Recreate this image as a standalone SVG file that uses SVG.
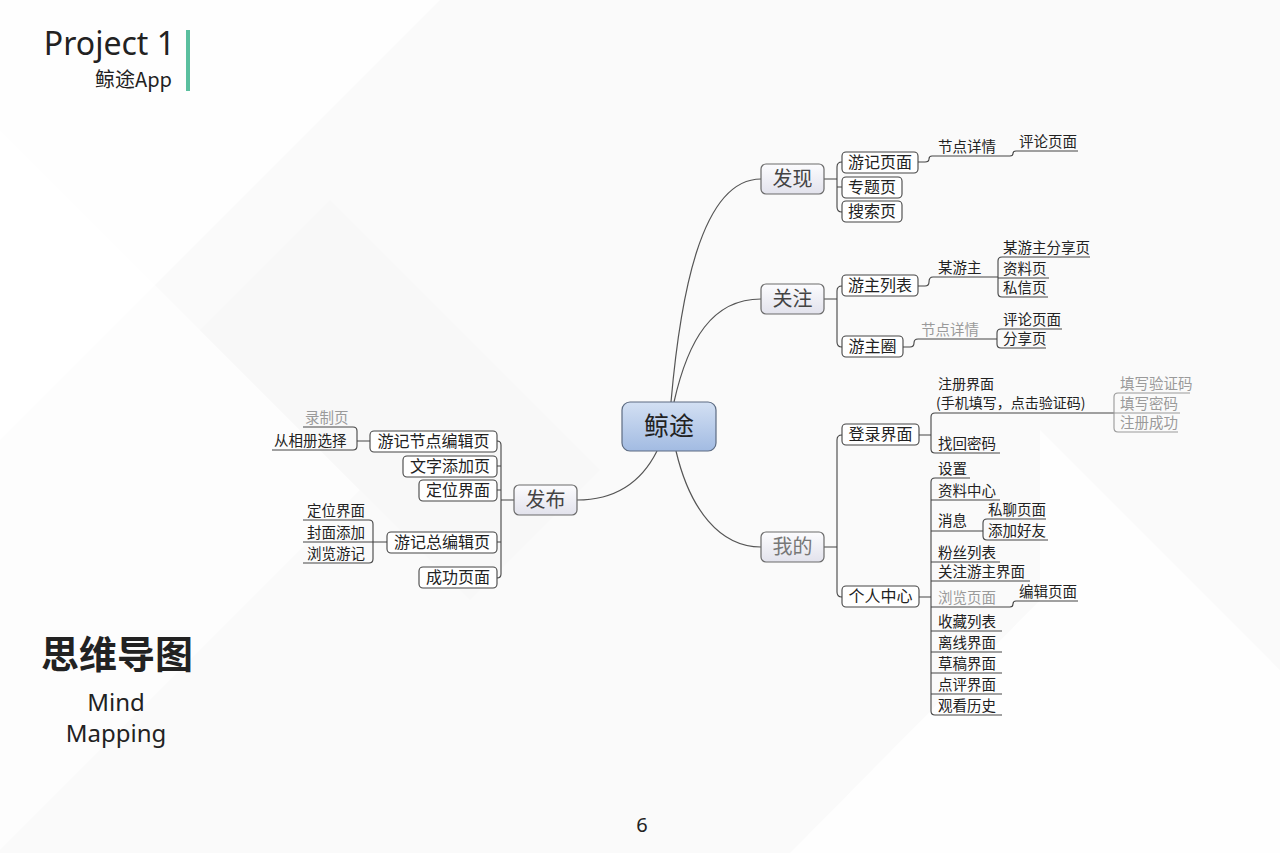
<svg xmlns="http://www.w3.org/2000/svg" width="1280" height="853" viewBox="0 0 1280 853">
<defs>
<linearGradient id="gc" x1="0" y1="0" x2="0" y2="1"><stop offset="0" stop-color="#d3e0f3"/><stop offset="1" stop-color="#a2bbe2"/></linearGradient>
<linearGradient id="g1" x1="0" y1="0" x2="0" y2="1"><stop offset="0" stop-color="#fcfcfe"/><stop offset="1" stop-color="#e2e2ec"/></linearGradient>
<style>
.t{font-family:"Noto Sans CJK SC","Noto Sans",sans-serif;fill:#222}
.b1{fill:url(#g1);stroke:#6a6a6a;stroke-width:1.2}
.b2{fill:#fff;stroke:#444;stroke-width:1.1}
.l1{font-size:20px;text-anchor:middle;fill:#444}
.l2{font-size:16px;text-anchor:middle}
.l3{font-size:14.5px}
.gr{fill:#9a9a9a}
#connectors path{fill:none;stroke:#444;stroke-width:1.1}
#connectors path.gl{stroke:#999}
#connectors path.main{stroke:#555;stroke-width:1.2}
</style>
</defs>
<rect width="1280" height="853" fill="#fafafa"/>
<polygon points="0,0 440,0 0,440" fill="#ffffff" opacity="0.8"/>
<polygon points="0,130 360,490 0,850" fill="#ffffff" opacity="0.6"/>
<polygon points="1040,430 1280,670 1280,853 790,853 1040,600" fill="#ffffff" opacity="0.7"/>
<polygon points="330,200 600,470 470,600 200,330" fill="#f4f4f4" opacity="0.35"/>

<g id="title">
<text x="175" y="55" text-anchor="end" style="font-family:'Noto Sans',sans-serif;font-size:32px;font-weight:400;fill:#222">Project 1</text>
<text x="172" y="87" text-anchor="end" style="font-family:'Noto Sans CJK SC','Noto Sans',sans-serif;font-size:20px;fill:#222">鲸途App</text>
<rect x="186" y="30" width="4" height="61" fill="#5bbf9f"/>
</g>
<g id="subtitle">
<text x="117" y="668" text-anchor="middle" style="font-family:'Noto Sans CJK SC',sans-serif;font-size:38px;font-weight:700;fill:#222">思维导图</text>
<text x="116" y="711" text-anchor="middle" style="font-family:'Noto Sans',sans-serif;font-size:24px;fill:#222">Mind</text>
<text x="116" y="742" text-anchor="middle" style="font-family:'Noto Sans',sans-serif;font-size:24px;fill:#222">Mapping</text>
<text x="642" y="832" text-anchor="middle" style="font-family:'Noto Sans',sans-serif;font-size:20px;fill:#222">6</text>
</g>

<g id="connectors">
<path class="main" d="M671,402 C680,300 700,179 761,179"/>
<path class="main" d="M674,402 C688,340 712,299 761,299"/>
<path class="main" d="M676,451 C690,510 720,547 761,547"/>
<path class="main" d="M657,451 C640,485 612,500 577,500"/>
<path d="M824,179 H837 M842,162 Q837,162 837,167 V207 Q837,212 842,212 M837,187 H842"/>
<path d="M918,162 H925 Q929,162 929,159 Q929,156 932,156 H1010 Q1013,156 1013,153.5 Q1013,151 1016,151 H1078"/>
<path d="M824,299 H837 M842,286 Q837,286 837,291 V342 Q837,347 842,347"/>
<path d="M918,286 H925 Q929,286 929,282 Q929,277 933,277 H998"/>
<path d="M1090,257 H1002 Q998,257 998,261 V293 Q998,297 1002,297 H1048 M998,278 H1049"/>
<path d="M903,347 H910 Q914,347 914,343 Q914,339 918,339 H997"/>
<path d="M1062,329 H1001 Q997,329 997,333 V344 Q997,348 1001,348 H1046"/>
<path d="M824,547 H837 M842,435 Q837,435 837,440 V592 Q837,597 842,597"/>
<path d="M919,435 H931 M1114,413 H935 Q931,413 931,417 V449 Q931,453 935,453 H1000"/>
<path class="gl" d="M1190,393 H1118 Q1114,393 1114,397 V428 Q1114,432 1118,432 H1178 M1114,413 H1180"/>
<path d="M919,597 H931 M970,478 H935 Q931,478 931,482 V711 Q931,715 935,715 H1002"/>
<path d="M931,500 H1000 M931,531 H983 M931,562 H1000 M931,581 H1030 M931,607 H1010 Q1013,607 1013,604 Q1013,601 1016,601 H1078 M931,631 H1002 M931,652 H1002 M931,673 H1002 M931,694 H1002"/>
<path d="M1046,519 H987 Q983,519 983,523 V536 Q983,540 987,540 H1048"/>
<path d="M514,500 H501 M497,441 Q501,441 501,445 V574 Q501,578 497,578 M497,466 H501 M497,490 H501 M497,542 H501"/>
<path d="M370,441 H357 M303,427 H353 Q357,427 357,431 V446 Q357,450 353,450 H272"/>
<path d="M387,542 H373 M303,520 H369 Q373,520 373,524 V559 Q373,563 369,563 H303 M303,542 H373"/>
</g>

<g id="n-root"><rect x="622" y="402" width="94" height="49" rx="8" fill="url(#gc)" stroke="#5c6b82" stroke-width="1.2"/><text class="t" x="669" y="435" text-anchor="middle" font-size="25" fill="#333">鲸途</text></g>

<g id="n-faxian"><rect class="b1" x="761" y="164" width="63" height="30" rx="5"/><text class="t l1" x="792.5" y="186">发现</text></g>
<g id="n-guanzhu"><rect class="b1" x="761" y="284" width="63" height="30" rx="5"/><text class="t l1" x="792.5" y="306">关注</text></g>
<g id="n-wode"><rect class="b1" x="761" y="532" width="63" height="30" rx="5"/><text class="t l1" x="792.5" y="554" style="fill:#777">我的</text></g>
<g id="n-fabu"><rect class="b1" x="514" y="485" width="63" height="30" rx="5"/><text class="t l1" x="545.5" y="507">发布</text></g>

<g id="n-youjiyemian"><rect class="b2" x="842" y="152" width="76" height="21" rx="4"/><text class="t l2" x="880" y="168">游记页面</text></g>
<g id="n-zhuantiye"><rect class="b2" x="842" y="177" width="60" height="21" rx="4"/><text class="t l2" x="872" y="193">专题页</text></g>
<g id="n-sousuoye"><rect class="b2" x="842" y="201" width="60" height="21" rx="4"/><text class="t l2" x="872" y="217">搜索页</text></g>
<g id="n-jiedian1"><text class="t l3" x="938" y="152">节点详情</text></g>
<g id="n-pinglun1"><text class="t l3" x="1019" y="147">评论页面</text></g>

<g id="n-youzhuliebiao"><rect class="b2" x="842" y="275" width="76" height="21" rx="4"/><text class="t l2" x="880" y="291">游主列表</text></g>
<g id="n-youzhuquan"><rect class="b2" x="842" y="336" width="61" height="21" rx="4"/><text class="t l2" x="872.5" y="352">游主圈</text></g>
<g id="n-mouyouzhu"><text class="t l3" x="938" y="273">某游主</text></g>
<g id="n-fenxiang1"><text class="t l3" x="1003" y="253">某游主分享页</text></g>
<g id="n-ziliao"><text class="t l3" x="1003" y="274">资料页</text></g>
<g id="n-sixin"><text class="t l3" x="1003" y="293">私信页</text></g>
<g id="n-jiedian2"><text class="t l3 gr" x="921" y="335">节点详情</text></g>
<g id="n-pinglun2"><text class="t l3" x="1003" y="325">评论页面</text></g>
<g id="n-fenxiang2"><text class="t l3" x="1003" y="344">分享页</text></g>

<g id="n-denglu"><rect class="b2" x="842" y="424" width="77" height="21" rx="4"/><text class="t l2" x="880.5" y="440">登录界面</text></g>
<g id="n-zhuce"><text class="t" font-size="14" x="938" y="389">注册界面</text><text class="t" font-size="14" x="936" y="408">(手机填写，点击验证码)</text></g>
<g id="n-yanzheng"><text class="t l3 gr" x="1120" y="389">填写验证码</text></g>
<g id="n-mima"><text class="t l3 gr" x="1120" y="409">填写密码</text></g>
<g id="n-chenggong"><text class="t l3 gr" x="1120" y="428">注册成功</text></g>
<g id="n-zhaohui"><text class="t l3" x="938" y="449">找回密码</text></g>

<g id="n-gerenzhongxin"><rect class="b2" x="842" y="586" width="77" height="21" rx="4"/><text class="t l2" x="880.5" y="602">个人中心</text></g>
<g id="n-shezhi"><text class="t l3" x="938" y="474">设置</text></g>
<g id="n-ziliaozhongxin"><text class="t l3" x="938" y="496">资料中心</text></g>
<g id="n-xiaoxi"><text class="t l3" x="938" y="526">消息</text></g>
<g id="n-siliao"><text class="t l3" x="988" y="515">私聊页面</text></g>
<g id="n-tianjia"><text class="t l3" x="988" y="536">添加好友</text></g>
<g id="n-fensi"><text class="t l3" x="938" y="558">粉丝列表</text></g>
<g id="n-guanzhuyouzhu"><text class="t l3" x="938" y="577">关注游主界面</text></g>
<g id="n-liulan"><text class="t l3 gr" x="938" y="603">浏览页面</text></g>
<g id="n-bianji"><text class="t l3" x="1019" y="597">编辑页面</text></g>
<g id="n-shoucang"><text class="t l3" x="938" y="627">收藏列表</text></g>
<g id="n-lixian"><text class="t l3" x="938" y="648">离线界面</text></g>
<g id="n-caogao"><text class="t l3" x="938" y="669">草稿界面</text></g>
<g id="n-dianping"><text class="t l3" x="938" y="690">点评界面</text></g>
<g id="n-lishi"><text class="t l3" x="938" y="711">观看历史</text></g>

<g id="n-jiedianbianji"><rect class="b2" x="370" y="431" width="127" height="21" rx="4"/><text class="t l2" x="433.5" y="447">游记节点编辑页</text></g>
<g id="n-wenzi"><rect class="b2" x="403" y="456" width="94" height="21" rx="4"/><text class="t l2" x="450" y="472">文字添加页</text></g>
<g id="n-dingwei"><rect class="b2" x="419" y="480" width="78" height="21" rx="4"/><text class="t l2" x="458" y="496">定位界面</text></g>
<g id="n-zongbianji"><rect class="b2" x="387" y="532" width="110" height="21" rx="4"/><text class="t l2" x="442" y="548">游记总编辑页</text></g>
<g id="n-chenggongyemian"><rect class="b2" x="419" y="567" width="78" height="21" rx="4"/><text class="t l2" x="458" y="583">成功页面</text></g>
<g id="n-luzhi"><text class="t l3 gr" x="305" y="423">录制页</text></g>
<g id="n-xiangce"><text class="t l3" x="274" y="446">从相册选择</text></g>
<g id="n-dingwei2"><text class="t l3" x="307" y="516">定位界面</text></g>
<g id="n-fengmian"><text class="t l3" x="307" y="538">封面添加</text></g>
<g id="n-liulanyouji"><text class="t l3" x="307" y="559">浏览游记</text></g>
</svg>
